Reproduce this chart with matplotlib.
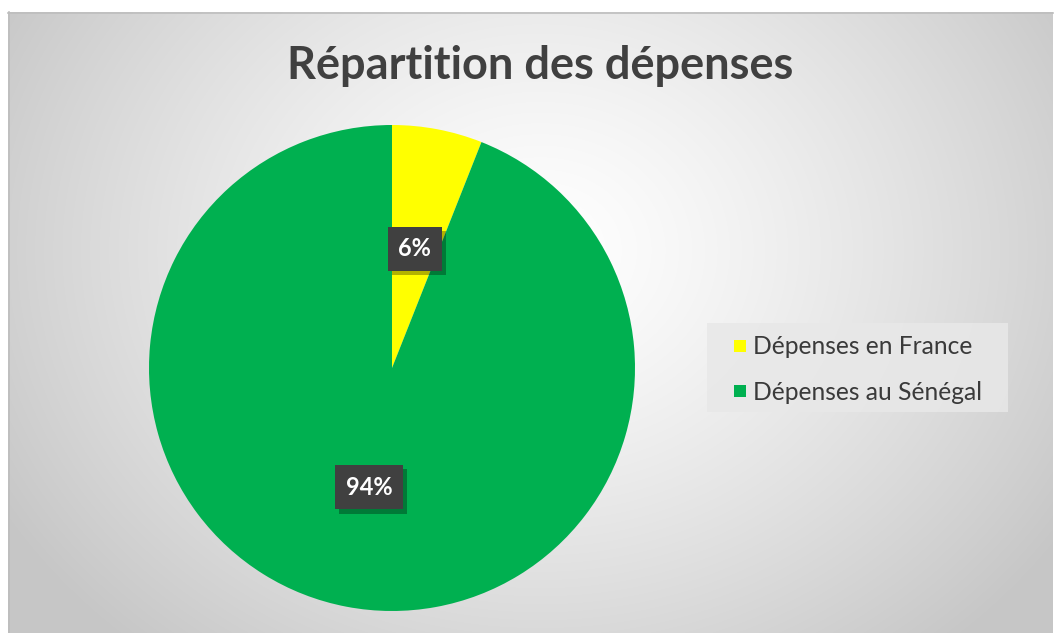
import numpy as np
import matplotlib
matplotlib.use("Agg")
import matplotlib.pyplot as plt
from matplotlib.patches import Rectangle
import matplotlib.patheffects as pe

title = "Répartition des dépenses"
categories = ["Dépenses en France", "Dépenses au Sénégal"]
values = [6, 94]
colors = ["#FFFF00", "#00B050"]

W, H = 1057, 633
fig = plt.figure(figsize=(W / 100, H / 100), dpi=100)

# background: white page + chart area with radial gradient
bg = fig.add_axes([0, 0, 1, 1])
bg.set_xlim(0, W)
bg.set_ylim(H, 0)
bg.axis("off")
x0, y0, x1, y1 = 8, 12, 1053, 633
yy, xx = np.mgrid[y0:y1, x0:x1]
cx, cy = 540, 250
d = np.sqrt(((xx - cx) / 620.0) ** 2 + ((yy - cy) / 520.0) ** 2)
g = 1.0 - 0.22 * np.clip(d, 0, 1) ** 1.3
img = np.dstack([g, g, g])
bg.imshow(img, extent=(x0, x1, y1, y0), interpolation="bilinear", zorder=0, aspect="auto")
bg.plot([x0, x1], [y0 + 0.5, y0 + 0.5], color="#bdbdbd", lw=1.2, zorder=1)
bg.plot([x0 + 0.5, x0 + 0.5], [y0, y1], color="#bdbdbd", lw=1.2, zorder=1)

# title
bg.text(540, 66, title, ha="center", va="center", fontsize=32.5, fontweight="bold",
        color="#404040", family=["Lato", "DejaVu Sans"], zorder=2)

# legend box
bg.add_patch(Rectangle((707, 323), 301, 89, facecolor="#e8e8e8", edgecolor="none", alpha=0.85, zorder=2))
for i, (lab, col) in enumerate(zip(categories, colors)):
    ym = 346 + i * 45
    bg.add_patch(Rectangle((734, ym - 6), 12, 12, facecolor=col, edgecolor="none", zorder=3))
    bg.text(753, ym + 1, lab, ha="left", va="center", fontsize=17.7, color="#3a3a3a",
            family=["Lato", "DejaVu Sans"], zorder=3)

# pie
pcx, pcy, r = 392, 368, 243
ax = fig.add_axes([(pcx - r) / W, (H - pcy - r) / H, 2 * r / W, 2 * r / H])
wedges, texts, autotexts = ax.pie(values, colors=colors, startangle=90, counterclock=False,
                                  radius=1, autopct="%1.0f%%", pctdistance=0.5,
                                  wedgeprops=dict(linewidth=0))
ax.set_xlim(-1, 1)
ax.set_ylim(-1, 1)
ax.axis("off")
for t in autotexts:
    t.set_fontsize(17)
    t.set_fontweight("bold")
    t.set_color("white")
    t.set_family(["Lato", "DejaVu Sans"])
    t.set_bbox(dict(boxstyle="square,pad=0.45", facecolor="#404040", edgecolor="none"))
    t.get_bbox_patch().set_path_effects([pe.withSimplePatchShadow(offset=(3, -3), shadow_rgbFace="black", alpha=0.3)])
    t.set_zorder(5)

fig.savefig("out.png", dpi=100)
